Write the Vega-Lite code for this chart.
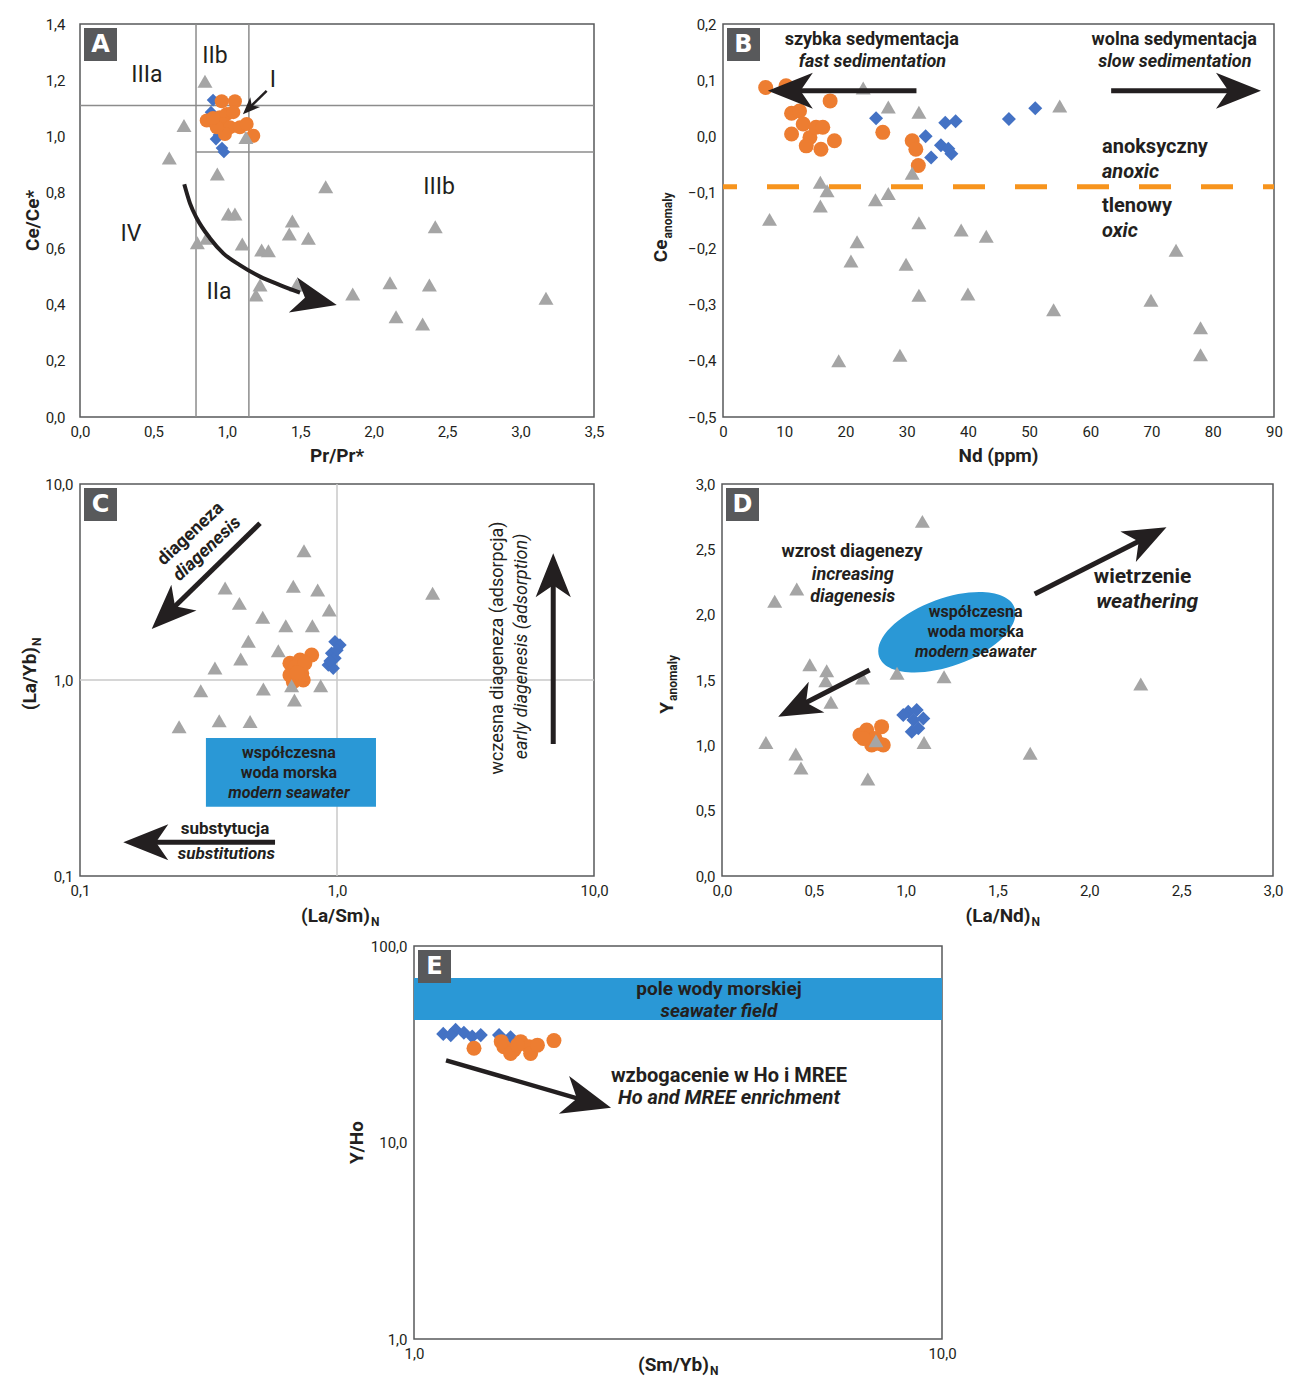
{
"$schema":"https://vega.github.io/schema/vega-lite/v6.json",
"padding":{"left":20,"top":16,"right":0,"bottom":0},
"background":"white",
"spacing":9,
"config":{
 "view":{"stroke":"#58595B","strokeWidth":1.5},
 "font":"Roboto",
 "axis":{"ticks":false,"domain":false,"grid":false,"labelFont":"Roboto","labelFontSize":15,"labelColor":"#231F20","labelPadding":7,"labelFlush":false,"labelOverlap":false},
 "text":{"font":"Roboto","color":"#231F20","baseline":"middle"}
},
"vconcat":[
{"hconcat":[
{"width":514,"height":393,
 "encoding":{"x":{"field":"x","type":"quantitative","scale":{"domain":[0,3.5],"nice":false,"zero":false},"axis":{"values":[0,0.5,1,1.5,2,2.5,3,3.5],"labelExpr":"replace(format(datum.value,'.1f'),'.',',')","title":null}},"y":{"field":"y","type":"quantitative","scale":{"domain":[0,1.4],"nice":false,"zero":false},"axis":{"values":[0,0.2,0.4,0.6,0.8,1,1.2,1.4],"labelExpr":"replace(format(datum.value,'.1f'),'.',',')","title":null,"labelPadding":15}}},
 "layer":[
 {"data":{"values":[{"x":0.79,"y":0,"y2":1.4},{"x":1.15,"y":0,"y2":1.4}]},"mark":{"type":"rule","color":"#8C8C8C","strokeWidth":1.5},"encoding":{"y2":{"field":"y2"}}},
 {"data":{"values":[{"x":0,"x2":3.5,"y":1.11},{"x":0.79,"x2":3.5,"y":0.944}]},"mark":{"type":"rule","color":"#8C8C8C","strokeWidth":1.5},"encoding":{"x2":{"field":"x2"}}},
 {"data":{"values":[{"x":0.906,"y":1.129},{"x":0.892,"y":1.086},{"x":0.912,"y":1.04},{"x":0.926,"y":0.99},{"x":0.967,"y":0.958},{"x":0.98,"y":0.944},{"x":0.946,"y":1.005},{"x":0.93,"y":1.06}]},"mark":{"type":"point","shape":"diamond","filled":true,"size":160,"color":"#4472C4","opacity":1},"encoding":{}},
 {"data":{"values":[{"x":0.965,"y":1.125},{"x":1.055,"y":1.125},{"x":0.863,"y":1.056},{"x":0.953,"y":1.068},{"x":0.999,"y":1.079},{"x":1.044,"y":1.086},{"x":0.976,"y":1.044},{"x":1.021,"y":1.032},{"x":1.089,"y":1.032},{"x":1.135,"y":1.044},{"x":1.18,"y":1.002},{"x":0.987,"y":1.008},{"x":0.931,"y":1.032},{"x":0.906,"y":1.065}]},"mark":{"type":"point","shape":"circle","filled":true,"size":196,"color":"#ED7D31","opacity":1},"encoding":{}},
 {"data":{"values":[{"x":0.851,"y":1.196},{"x":0.708,"y":1.038},{"x":0.608,"y":0.923},{"x":0.935,"y":0.866},{"x":1.13,"y":0.996},{"x":1.673,"y":0.82},{"x":1.01,"y":0.723},{"x":1.055,"y":0.723},{"x":1.446,"y":0.698},{"x":1.425,"y":0.652},{"x":1.555,"y":0.637},{"x":2.419,"y":0.678},{"x":0.799,"y":0.621},{"x":0.862,"y":0.637},{"x":1.105,"y":0.616},{"x":1.237,"y":0.595},{"x":1.283,"y":0.592},{"x":1.226,"y":0.47},{"x":1.198,"y":0.435},{"x":1.475,"y":0.47},{"x":1.857,"y":0.438},{"x":2.111,"y":0.478},{"x":2.379,"y":0.47},{"x":2.152,"y":0.357},{"x":2.333,"y":0.331},{"x":3.173,"y":0.423}]},"mark":{"type":"point","shape":"triangle-up","filled":true,"size":225,"color":"#A5A5A5","opacity":1},"encoding":{}},
 {"data":{"values":[{"x":0.71,"y":0.829,"o":1},{"x":0.749,"y":0.761,"o":2},{"x":0.795,"y":0.708,"o":3},{"x":0.885,"y":0.637,"o":4},{"x":0.976,"y":0.583,"o":5},{"x":1.089,"y":0.541,"o":6},{"x":1.226,"y":0.5,"o":7},{"x":1.362,"y":0.47,"o":8},{"x":1.498,"y":0.443,"o":9}]},"mark":{"type":"line","color":"#231F20","strokeWidth":4,"interpolate":"monotone"},"encoding":{"order":{"field":"o"}}},
 {"data":{"values":[{"x":1.599,"y":0.417}]},"mark":{"type":"point","shape":"M1,0L-1,-0.8L-0.45,0L-1,0.8Z","filled":true,"size":2025,"angle":13,"color":"#231F20","opacity":1},"encoding":{}},
 {"data":{"values":[{"x":1.271,"y":1.162,"o":1},{"x":1.151,"y":1.1,"o":2}]},"mark":{"type":"line","color":"#231F20","strokeWidth":2.5},"encoding":{"order":{"field":"o"}}},
 {"data":{"values":[{"x":1.151,"y":1.1}]},"mark":{"type":"point","shape":"M1,0L-1,-0.8L-0.45,0L-1,0.8Z","filled":true,"size":300,"angle":135,"color":"#231F20","opacity":1},"encoding":{}},
 {"data":{"values":[{"x":0.456,"y":1.218,"t":"IIIa"},{"x":0.919,"y":1.286,"t":"IIb"},{"x":1.314,"y":1.2,"t":"I"},{"x":0.347,"y":0.652,"t":"IV"},{"x":0.946,"y":0.445,"t":"IIa"},{"x":2.445,"y":0.819,"t":"IIIb"}]},"mark":{"type":"text","fontSize":23},"encoding":{"text":{"field":"t"}}},
 {"data":{"values":[{"x":1.75,"y":0,"t":"Pr/Pr*"}]},"mark":{"type":"text","fontSize":19,"fontWeight":"bold","dy":39},"encoding":{"text":{"field":"t"}}},
 {"data":{"values":[{"x":0,"y":0.7,"t":"Ce/Ce*"}]},"mark":{"type":"text","fontSize":19,"fontWeight":"bold","angle":270,"dy":-47},"encoding":{"text":{"field":"t"}}},
 {"data":{"values":[{"x":0,"y":1.4}]},"mark":{"type":"point","shape":"square","filled":true,"size":1089,"color":"#58595B","opacity":1,"xOffset":20.5,"yOffset":20.5},"encoding":{}},
 {"data":{"values":[{"x":0,"y":1.4,"t":"A"}]},"mark":{"type":"text","font":"DejaVu Sans","fontSize":24,"fontWeight":"bold","color":"white","dx":20.5,"dy":21},"encoding":{"text":{"field":"t"}}}
]},
{"width":551,"height":393,
 "encoding":{"x":{"field":"x","type":"quantitative","scale":{"domain":[0,90],"nice":false,"zero":false},"axis":{"values":[0,10,20,30,40,50,60,70,80,90],"format":"d","title":null}},"y":{"field":"y","type":"quantitative","scale":{"domain":[-0.5,0.2],"nice":false,"zero":false},"axis":{"values":[-0.5,-0.4,-0.3,-0.2,-0.1,0,0.1,0.2],"labelExpr":"replace(format(datum.value,'.1f'),'.',',')","title":null}}},
 "layer":[
 {"data":{"values":[{"x":0,"x2":90,"y":-0.09}]},"mark":{"type":"rule","color":"#F7941D","strokeWidth":5,"strokeDash":[32,30],"strokeDashOffset":18},"encoding":{"x2":{"field":"x2"}}},
 {"data":{"values":[{"x":25.0,"y":0.032},{"x":33.1,"y":0.0},{"x":36.3,"y":0.024},{"x":38.0,"y":0.027},{"x":35.6,"y":-0.016},{"x":34.0,"y":-0.038},{"x":37.3,"y":-0.031},{"x":46.7,"y":0.031},{"x":51.0,"y":0.05},{"x":36.8,"y":-0.022}]},"mark":{"type":"point","shape":"diamond","filled":true,"size":196,"color":"#4472C4","opacity":1},"encoding":{}},
 {"data":{"values":[{"x":6.97,"y":0.087},{"x":10.3,"y":0.09},{"x":17.5,"y":0.063},{"x":11.2,"y":0.041},{"x":12.5,"y":0.045},{"x":11.2,"y":0.004},{"x":13.1,"y":0.022},{"x":14.2,"y":-0.002},{"x":15.2,"y":0.016},{"x":16.3,"y":0.016},{"x":13.6,"y":-0.017},{"x":16.0,"y":-0.023},{"x":18.2,"y":-0.008},{"x":26.1,"y":0.007},{"x":30.9,"y":-0.008},{"x":31.5,"y":-0.023},{"x":31.9,"y":-0.052}]},"mark":{"type":"point","shape":"circle","filled":true,"size":225,"color":"#ED7D31","opacity":1},"encoding":{}},
 {"data":{"values":[{"x":22.9,"y":0.086},{"x":27.0,"y":0.052},{"x":32.0,"y":0.043},{"x":55.0,"y":0.054},{"x":30.9,"y":-0.066},{"x":15.9,"y":-0.082},{"x":17.0,"y":-0.097},{"x":15.9,"y":-0.124},{"x":24.9,"y":-0.113},{"x":27.0,"y":-0.102},{"x":7.6,"y":-0.148},{"x":32.0,"y":-0.154},{"x":38.9,"y":-0.167},{"x":43.0,"y":-0.178},{"x":21.9,"y":-0.188},{"x":20.9,"y":-0.222},{"x":29.9,"y":-0.228},{"x":32.0,"y":-0.283},{"x":40.0,"y":-0.281},{"x":18.9,"y":-0.4},{"x":28.9,"y":-0.39},{"x":74.0,"y":-0.203},{"x":54.0,"y":-0.309},{"x":69.9,"y":-0.292},{"x":78.0,"y":-0.341},{"x":78.0,"y":-0.389}]},"mark":{"type":"point","shape":"triangle-up","filled":true,"size":225,"color":"#A5A5A5","opacity":1},"encoding":{}},
 {"data":{"values":[{"x":31.6,"y":0.081,"g":"l","o":1},{"x":11.0,"y":0.081,"g":"l","o":2},{"x":63.4,"y":0.081,"g":"r","o":1},{"x":84.2,"y":0.081,"g":"r","o":2}]},"mark":{"type":"line","color":"#231F20","strokeWidth":5},"encoding":{"detail":{"field":"g"},"order":{"field":"o"}}},
 {"data":{"values":[{"x":11.0,"y":0.081}]},"mark":{"type":"point","shape":"M1,0L-1,-0.8L-0.45,0L-1,0.8Z","filled":true,"size":2025,"angle":180,"color":"#231F20","opacity":1},"encoding":{}},
 {"data":{"values":[{"x":84.2,"y":0.081}]},"mark":{"type":"point","shape":"M1,0L-1,-0.8L-0.45,0L-1,0.8Z","filled":true,"size":2025,"angle":0,"color":"#231F20","opacity":1},"encoding":{}},
 {"data":{"values":[{"x":24.3,"y":0.1715,"t":"szybka sedymentacja"},{"x":73.7,"y":0.1715,"t":"wolna sedymentacja"}]},"mark":{"type":"text","fontSize":18,"fontWeight":"bold"},"encoding":{"text":{"field":"t"}}},
 {"data":{"values":[{"x":24.4,"y":0.132,"t":"fast sedimentation"},{"x":73.8,"y":0.132,"t":"slow sedimentation"}]},"mark":{"type":"text","fontSize":18,"fontWeight":"bold","fontStyle":"italic"},"encoding":{"text":{"field":"t"}}},
 {"data":{"values":[{"x":61.9,"y":-0.019,"t":"anoksyczny"},{"x":61.9,"y":-0.124,"t":"tlenowy"}]},"mark":{"type":"text","fontSize":20,"fontWeight":"bold","align":"left"},"encoding":{"text":{"field":"t"}}},
 {"data":{"values":[{"x":61.9,"y":-0.064,"t":"anoxic"},{"x":61.9,"y":-0.169,"t":"oxic"}]},"mark":{"type":"text","fontSize":20,"fontWeight":"bold","fontStyle":"italic","align":"left"},"encoding":{"text":{"field":"t"}}},
 {"data":{"values":[{"x":45,"y":-0.5,"t":"Nd (ppm)"}]},"mark":{"type":"text","fontSize":19,"fontWeight":"bold","dy":39},"encoding":{"text":{"field":"t"}}},
 {"data":{"values":[{"x":0,"y":-0.15,"t":"Ce"}]},"mark":{"type":"text","fontSize":19,"fontWeight":"bold","angle":270,"align":"right","dx":-19,"dy":-62},"encoding":{"text":{"field":"t"}}},
 {"data":{"values":[{"x":0,"y":-0.15,"t":"anomaly"}]},"mark":{"type":"text","fontSize":12,"fontWeight":"bold","angle":270,"align":"left","dx":-18,"dy":-55},"encoding":{"text":{"field":"t"}}},
 {"data":{"values":[{"x":0,"y":0.2}]},"mark":{"type":"point","shape":"square","filled":true,"size":1089,"color":"#58595B","opacity":1,"xOffset":20.5,"yOffset":20.5},"encoding":{}},
 {"data":{"values":[{"x":0,"y":0.2,"t":"B"}]},"mark":{"type":"text","font":"DejaVu Sans","fontSize":24,"fontWeight":"bold","color":"white","dx":20.5,"dy":21},"encoding":{"text":{"field":"t"}}}
]}
],"spacing":46},
{"hconcat":[
{"width":514,"height":392,
 "encoding":{"x":{"field":"x","type":"quantitative","scale":{"type":"log","domain":[0.1,10],"nice":false},"axis":{"values":[0.1,1,10],"labelExpr":"replace(format(datum.value,'.1f'),'.',',')","title":null}},"y":{"field":"y","type":"quantitative","scale":{"type":"log","domain":[0.1,10],"nice":false},"axis":{"values":[0.1,1,10],"labelExpr":"replace(format(datum.value,'.1f'),'.',',')","title":null}}},
 "layer":[
 {"data":{"values":[{"x":1,"y":0.1,"y2":10}]},"mark":{"type":"rule","color":"#C8C8C8","strokeWidth":1.5},"encoding":{"y2":{"field":"y2"}}},
 {"data":{"values":[{"x":0.1,"x2":10,"y":1}]},"mark":{"type":"rule","color":"#C8C8C8","strokeWidth":1.5},"encoding":{"x2":{"field":"x2"}}},
 {"data":{"values":[{"x":0.309,"x2":1.418,"y":0.2258,"y2":0.506}]},"mark":{"type":"rect","color":"#2A98D6","opacity":1},"encoding":{"x2":{"field":"x2"},"y2":{"field":"y2"}}},
 {"data":{"values":[{"x":0.982,"y":1.568},{"x":1.027,"y":1.509},{"x":0.953,"y":1.368},{"x":0.982,"y":1.29},{"x":0.925,"y":1.193},{"x":0.967,"y":1.148},{"x":1.0,"y":1.42},{"x":0.94,"y":1.25}]},"mark":{"type":"point","shape":"diamond","filled":true,"size":180,"color":"#4472C4","opacity":1},"encoding":{}},
 {"data":{"values":[{"x":0.656,"y":1.217},{"x":0.718,"y":1.265},{"x":0.797,"y":1.342},{"x":0.676,"y":1.125},{"x":0.729,"y":1.082},{"x":0.656,"y":1.061},{"x":0.676,"y":0.98},{"x":0.739,"y":1.0},{"x":0.707,"y":1.02},{"x":0.69,"y":1.17},{"x":0.75,"y":1.22},{"x":0.7,"y":1.09}]},"mark":{"type":"point","shape":"circle","filled":true,"size":225,"color":"#ED7D31","opacity":1},"encoding":{}},
 {"data":{"values":[{"x":0.744,"y":4.57},{"x":0.367,"y":2.947},{"x":0.676,"y":3.006},{"x":0.841,"y":2.877},{"x":0.417,"y":2.46},{"x":0.933,"y":2.275},{"x":0.514,"y":2.09},{"x":0.632,"y":1.89},{"x":0.802,"y":1.89},{"x":0.452,"y":1.575},{"x":0.591,"y":1.41},{"x":0.422,"y":1.28},{"x":0.335,"y":1.15},{"x":2.355,"y":2.77},{"x":0.295,"y":0.882},{"x":0.517,"y":0.9},{"x":0.666,"y":0.935},{"x":0.864,"y":0.935},{"x":0.683,"y":0.79},{"x":0.243,"y":0.578},{"x":0.348,"y":0.62},{"x":0.459,"y":0.615}]},"mark":{"type":"point","shape":"triangle-up","filled":true,"size":225,"color":"#A5A5A5","opacity":1},"encoding":{}},
 {"data":{"values":[{"x":0.5016,"y":6.3,"g":"d","o":1},{"x":0.2196,"y":2.189,"g":"d","o":2},{"x":0.574,"y":0.1486,"g":"h","o":1},{"x":0.1803,"y":0.1486,"g":"h","o":2},{"x":6.94,"y":0.4716,"g":"v","o":1},{"x":6.94,"y":3.42,"g":"v","o":2}]},"mark":{"type":"line","color":"#231F20","strokeWidth":5},"encoding":{"detail":{"field":"g"},"order":{"field":"o"}}},
 {"data":{"values":[{"x":0.2196,"y":2.189}]},"mark":{"type":"point","shape":"M1,0L-1,-0.8L-0.45,0L-1,0.8Z","filled":true,"size":2025,"angle":135.7,"color":"#231F20","opacity":1},"encoding":{}},
 {"data":{"values":[{"x":0.1803,"y":0.1486}]},"mark":{"type":"point","shape":"M1,0L-1,-0.8L-0.45,0L-1,0.8Z","filled":true,"size":2025,"angle":180,"color":"#231F20","opacity":1},"encoding":{}},
 {"data":{"values":[{"x":6.94,"y":3.42}]},"mark":{"type":"point","shape":"M1,0L-1,-0.8L-0.45,0L-1,0.8Z","filled":true,"size":1936,"angle":270,"color":"#231F20","opacity":1},"encoding":{}},
 {"data":{"values":[{"x":0.65,"y":0.424,"t":"współczesna"},{"x":0.65,"y":0.335,"t":"woda morska"}]},"mark":{"type":"text","fontSize":16,"fontWeight":"bold"},"encoding":{"text":{"field":"t"}}},
 {"data":{"values":[{"x":0.65,"y":0.265,"t":"modern seawater"}]},"mark":{"type":"text","fontSize":16,"fontWeight":"bold","fontStyle":"italic"},"encoding":{"text":{"field":"t"}}},
 {"data":{"values":[{"x":0.3666,"y":0.1738,"t":"substytucja"}]},"mark":{"type":"text","fontSize":17,"fontWeight":"bold"},"encoding":{"text":{"field":"t"}}},
 {"data":{"values":[{"x":0.371,"y":0.1295,"t":"substitutions"}]},"mark":{"type":"text","fontSize":17,"fontWeight":"bold","fontStyle":"italic"},"encoding":{"text":{"field":"t"}}},
 {"data":{"values":[{"x":0.2697,"y":5.56,"t":"diageneza"}]},"mark":{"type":"text","fontSize":18,"fontWeight":"bold","angle":317},"encoding":{"text":{"field":"t"}}},
 {"data":{"values":[{"x":0.3128,"y":4.66,"t":"diagenesis"}]},"mark":{"type":"text","fontSize":18,"fontWeight":"bold","fontStyle":"italic","angle":317},"encoding":{"text":{"field":"t"}}},
 {"data":{"values":[{"x":4.24,"y":1.456,"t":"wczesna diageneza (adsorpcja)"}]},"mark":{"type":"text","fontSize":18,"angle":270},"encoding":{"text":{"field":"t"}}},
 {"data":{"values":[{"x":5.23,"y":1.483,"t":"early diagenesis (adsorption)"}]},"mark":{"type":"text","fontSize":18,"fontStyle":"italic","angle":270},"encoding":{"text":{"field":"t"}}},
 {"data":{"values":[{"x":1,"y":0.1,"t":"(La/Sm)"}]},"mark":{"type":"text","fontSize":19,"fontWeight":"bold","align":"right","dx":33,"dy":40},"encoding":{"text":{"field":"t"}}},
 {"data":{"values":[{"x":1,"y":0.1,"t":"N"}]},"mark":{"type":"text","fontSize":12,"fontWeight":"bold","align":"left","dx":34,"dy":46},"encoding":{"text":{"field":"t"}}},
 {"data":{"values":[{"x":0.1,"y":1,"t":"(La/Yb)"}]},"mark":{"type":"text","fontSize":19,"fontWeight":"bold","angle":270,"align":"right","dx":33,"dy":-50},"encoding":{"text":{"field":"t"}}},
 {"data":{"values":[{"x":0.1,"y":1,"t":"N"}]},"mark":{"type":"text","fontSize":12,"fontWeight":"bold","angle":270,"align":"left","dx":34,"dy":-43},"encoding":{"text":{"field":"t"}}},
 {"data":{"values":[{"x":0.1,"y":10}]},"mark":{"type":"point","shape":"square","filled":true,"size":1089,"color":"#58595B","opacity":1,"xOffset":20.5,"yOffset":20.5},"encoding":{}},
 {"data":{"values":[{"x":0.1,"y":10,"t":"C"}]},"mark":{"type":"text","font":"DejaVu Sans","fontSize":24,"fontWeight":"bold","color":"white","dx":20.5,"dy":21},"encoding":{"text":{"field":"t"}}}
]},
{"width":551,"height":392,
 "encoding":{"x":{"field":"x","type":"quantitative","scale":{"domain":[0,3],"nice":false,"zero":false},"axis":{"values":[0,0.5,1,1.5,2,2.5,3],"labelExpr":"replace(format(datum.value,'.1f'),'.',',')","title":null}},"y":{"field":"y","type":"quantitative","scale":{"domain":[0,3],"nice":false,"zero":false},"axis":{"values":[0,0.5,1,1.5,2,2.5,3],"labelExpr":"replace(format(datum.value,'.1f'),'.',',')","title":null}}},
 "layer":[
 {"data":{"values":[{"x":1.2245,"y":1.865}]},"mark":{"type":"point","shape":"M-1,0C-1,-0.26,-0.5523,-0.47,0,-0.47C0.5523,-0.47,1,-0.26,1,0C1,0.26,0.5523,0.47,0,0.47C-0.5523,0.47,-1,0.26,-1,0Z","filled":true,"size":20736,"angle":340,"color":"#2A98D6","opacity":1},"encoding":{}},
 {"data":{"values":[{"x":1.014,"y":1.257},{"x":1.06,"y":1.27},{"x":1.096,"y":1.206},{"x":1.042,"y":1.194},{"x":1.069,"y":1.13},{"x":1.033,"y":1.104},{"x":0.987,"y":1.232}]},"mark":{"type":"point","shape":"diamond","filled":true,"size":196,"color":"#4472C4","opacity":1},"encoding":{}},
 {"data":{"values":[{"x":0.751,"y":1.079},{"x":0.788,"y":1.117},{"x":0.833,"y":1.053},{"x":0.869,"y":1.143},{"x":0.878,"y":1.003},{"x":0.815,"y":1.003},{"x":0.851,"y":1.015},{"x":0.769,"y":1.053}]},"mark":{"type":"point","shape":"circle","filled":true,"size":225,"color":"#ED7D31","opacity":1},"encoding":{}},
 {"data":{"values":[{"x":1.091,"y":2.714},{"x":0.407,"y":2.196},{"x":0.287,"y":2.102},{"x":0.478,"y":1.617},{"x":0.57,"y":1.571},{"x":0.565,"y":1.494},{"x":0.765,"y":1.515},{"x":0.953,"y":1.551},{"x":1.209,"y":1.525},{"x":0.593,"y":1.329},{"x":2.28,"y":1.469},{"x":0.239,"y":1.022},{"x":0.402,"y":0.934},{"x":0.43,"y":0.826},{"x":0.838,"y":1.035},{"x":1.1,"y":1.022},{"x":1.678,"y":0.939},{"x":0.794,"y":0.742}]},"mark":{"type":"point","shape":"triangle-up","filled":true,"size":225,"color":"#A5A5A5","opacity":1},"encoding":{}},
 {"data":{"values":[{"x":1.7025,"y":2.158,"g":"u","o":1},{"x":2.3156,"y":2.594,"g":"u","o":2},{"x":0.8036,"y":1.5765,"g":"d","o":1},{"x":0.4105,"y":1.294,"g":"d","o":2}]},"mark":{"type":"line","color":"#231F20","strokeWidth":5},"encoding":{"detail":{"field":"g"},"order":{"field":"o"}}},
 {"data":{"values":[{"x":2.3156,"y":2.594}]},"mark":{"type":"point","shape":"M1,0L-1,-0.8L-0.45,0L-1,0.8Z","filled":true,"size":1849,"angle":333.2,"color":"#231F20","opacity":1},"encoding":{}},
 {"data":{"values":[{"x":0.4105,"y":1.294}]},"mark":{"type":"point","shape":"M1,0L-1,-0.8L-0.45,0L-1,0.8Z","filled":true,"size":1849,"angle":153,"color":"#231F20","opacity":1},"encoding":{}},
 {"data":{"values":[{"x":1.381,"y":2.018,"t":"współczesna"},{"x":1.381,"y":1.865,"t":"woda morska"}]},"mark":{"type":"text","fontSize":16,"fontWeight":"bold"},"encoding":{"text":{"field":"t"}}},
 {"data":{"values":[{"x":1.381,"y":1.712,"t":"modern seawater"}]},"mark":{"type":"text","fontSize":16,"fontWeight":"bold","fontStyle":"italic"},"encoding":{"text":{"field":"t"}}},
 {"data":{"values":[{"x":0.708,"y":2.477,"t":"wzrost diagenezy"}]},"mark":{"type":"text","fontSize":18,"fontWeight":"bold"},"encoding":{"text":{"field":"t"}}},
 {"data":{"values":[{"x":0.712,"y":2.306,"t":"increasing"},{"x":0.712,"y":2.138,"t":"diagenesis"}]},"mark":{"type":"text","fontSize":18,"fontWeight":"bold","fontStyle":"italic"},"encoding":{"text":{"field":"t"}}},
 {"data":{"values":[{"x":2.29,"y":2.291,"t":"wietrzenie"}]},"mark":{"type":"text","fontSize":21,"fontWeight":"bold"},"encoding":{"text":{"field":"t"}}},
 {"data":{"values":[{"x":2.315,"y":2.095,"t":"weathering"}]},"mark":{"type":"text","fontSize":21,"fontWeight":"bold","fontStyle":"italic"},"encoding":{"text":{"field":"t"}}},
 {"data":{"values":[{"x":1.5,"y":0,"t":"(La/Nd)"}]},"mark":{"type":"text","fontSize":19,"fontWeight":"bold","align":"right","dx":33,"dy":40},"encoding":{"text":{"field":"t"}}},
 {"data":{"values":[{"x":1.5,"y":0,"t":"N"}]},"mark":{"type":"text","fontSize":12,"fontWeight":"bold","align":"left","dx":34,"dy":46},"encoding":{"text":{"field":"t"}}},
 {"data":{"values":[{"x":0,"y":1.5,"t":"Y"}]},"mark":{"type":"text","fontSize":19,"fontWeight":"bold","angle":270,"align":"right","dx":-22,"dy":-55},"encoding":{"text":{"field":"t"}}},
 {"data":{"values":[{"x":0,"y":1.5,"t":"anomaly"}]},"mark":{"type":"text","fontSize":12,"fontWeight":"bold","angle":270,"align":"left","dx":-21,"dy":-49},"encoding":{"text":{"field":"t"}}},
 {"data":{"values":[{"x":0,"y":3}]},"mark":{"type":"point","shape":"square","filled":true,"size":1089,"color":"#58595B","opacity":1,"xOffset":20.5,"yOffset":20.5},"encoding":{}},
 {"data":{"values":[{"x":0,"y":3,"t":"D"}]},"mark":{"type":"text","font":"DejaVu Sans","fontSize":24,"fontWeight":"bold","color":"white","dx":20.5,"dy":21},"encoding":{"text":{"field":"t"}}}
]}
],"spacing":48},
{"hconcat":[
{"width":247,"height":10,"view":{"stroke":null},"data":{"values":[{"a":1}]},"mark":{"type":"point","opacity":0},"encoding":{}},
{"width":528,"height":393,
 "encoding":{"x":{"field":"x","type":"quantitative","scale":{"type":"log","domain":[1,10],"nice":false},"axis":{"values":[1,10],"labelExpr":"replace(format(datum.value,'.1f'),'.',',')","title":null}},"y":{"field":"y","type":"quantitative","scale":{"type":"log","domain":[1,100],"nice":false},"axis":{"values":[1,10,100],"labelExpr":"replace(format(datum.value,'.1f'),'.',',')","title":null}}},
 "layer":[
 {"data":{"values":[{"x":1,"x2":10,"y":42.0,"y2":68.7}]},"mark":{"type":"rect","color":"#2A98D6","opacity":1},"encoding":{"x2":{"field":"x2"},"y2":{"field":"y2"}}},
 {"data":{"values":[{"x":1.136,"y":35.7},{"x":1.199,"y":37.4},{"x":1.243,"y":36.2},{"x":1.289,"y":34.6},{"x":1.338,"y":35.2},{"x":1.449,"y":35.2},{"x":1.524,"y":34.3},{"x":1.174,"y":35.2}]},"mark":{"type":"point","shape":"diamond","filled":true,"size":200,"color":"#4472C4","opacity":1},"encoding":{}},
 {"data":{"values":[{"x":1.299,"y":30.2},{"x":1.463,"y":32.6},{"x":1.48,"y":30.7},{"x":1.546,"y":29.6},{"x":1.592,"y":32.6},{"x":1.651,"y":30.7},{"x":1.663,"y":28.4},{"x":1.713,"y":31.3},{"x":1.841,"y":33.0},{"x":1.524,"y":28.4},{"x":1.57,"y":31.3}]},"mark":{"type":"point","shape":"circle","filled":true,"size":225,"color":"#ED7D31","opacity":1},"encoding":{}},
 {"data":{"values":[{"x":1.15,"y":26.2,"o":1},{"x":2.131,"y":16.2,"o":2}]},"mark":{"type":"line","color":"#231F20","strokeWidth":4.5},"encoding":{"order":{"field":"o"}}},
 {"data":{"values":[{"x":2.131,"y":16.2}]},"mark":{"type":"point","shape":"M1,0L-1,-0.8L-0.45,0L-1,0.8Z","filled":true,"size":2381,"angle":15.3,"color":"#231F20","opacity":1},"encoding":{}},
 {"data":{"values":[{"x":3.78,"y":60.4,"t":"pole wody morskiej"}]},"mark":{"type":"text","fontSize":19,"fontWeight":"bold"},"encoding":{"text":{"field":"t"}}},
 {"data":{"values":[{"x":3.78,"y":46.7,"t":"seawater field"}]},"mark":{"type":"text","fontSize":19,"fontWeight":"bold","fontStyle":"italic"},"encoding":{"text":{"field":"t"}}},
 {"data":{"values":[{"x":3.95,"y":21.8,"t":"wzbogacenie w Ho i MREE"}]},"mark":{"type":"text","fontSize":20,"fontWeight":"bold"},"encoding":{"text":{"field":"t"}}},
 {"data":{"values":[{"x":3.95,"y":16.8,"t":"Ho and MREE enrichment"}]},"mark":{"type":"text","fontSize":20,"fontWeight":"bold","fontStyle":"italic"},"encoding":{"text":{"field":"t"}}},
 {"data":{"values":[{"x":3.162,"y":1,"t":"(Sm/Yb)"}]},"mark":{"type":"text","fontSize":19,"fontWeight":"bold","align":"right","dx":31,"dy":26},"encoding":{"text":{"field":"t"}}},
 {"data":{"values":[{"x":3.162,"y":1,"t":"N"}]},"mark":{"type":"text","fontSize":12,"fontWeight":"bold","align":"left","dx":32,"dy":32},"encoding":{"text":{"field":"t"}}},
 {"data":{"values":[{"x":1,"y":10,"t":"Y/Ho"}]},"mark":{"type":"text","fontSize":19,"fontWeight":"bold","angle":270,"dy":-57},"encoding":{"text":{"field":"t"}}},
 {"data":{"values":[{"x":1,"y":100}]},"mark":{"type":"point","shape":"square","filled":true,"size":1089,"color":"#58595B","opacity":1,"xOffset":20.5,"yOffset":20.5},"encoding":{}},
 {"data":{"values":[{"x":1,"y":100,"t":"E"}]},"mark":{"type":"text","font":"DejaVu Sans","fontSize":24,"fontWeight":"bold","color":"white","dx":20.5,"dy":21},"encoding":{"text":{"field":"t"}}}
]}
],"spacing":20}
]
}
